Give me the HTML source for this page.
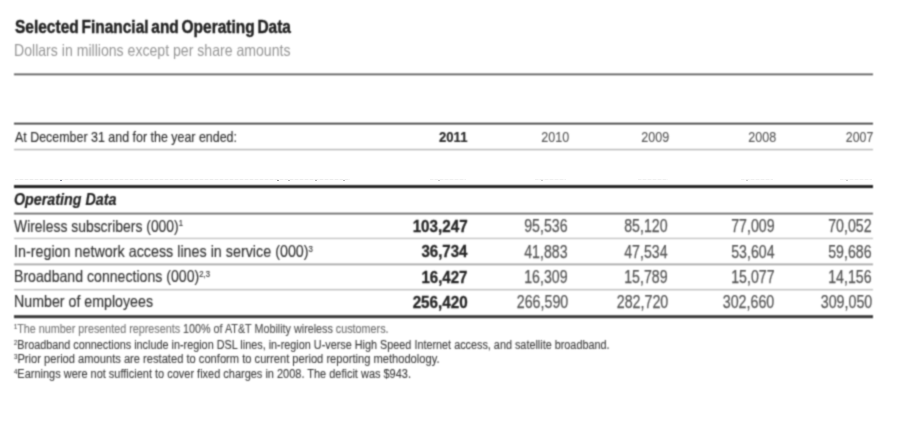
<!DOCTYPE html><html><head><meta charset="utf-8"><style>
html,body{margin:0;padding:0;background:#fff;}body{width:912px;height:442px;position:relative;overflow:hidden;font-family:"Liberation Sans",sans-serif;}
.t{position:absolute;white-space:nowrap;line-height:1;display:block;}
.l{position:absolute;}
sup{font-size:0.55em;vertical-align:0;position:relative;top:-0.6em;line-height:0;}
.w{position:absolute;left:0;top:0;width:912px;height:442px;}
#wt{filter:url(#kb);}
</style></head><body>
<svg width="0" height="0" style="position:absolute"><filter id="kb" x="0" y="0" width="100%" height="100%" color-interpolation-filters="sRGB"><feConvolveMatrix order="5" kernelMatrix="0.00009 0.00198 0.00548 0.00198 0.00009 0.00198 0.04220 0.11707 0.04220 0.00198 0.00548 0.11707 0.32480 0.11707 0.00548 0.00198 0.04220 0.11707 0.04220 0.00198 0.00009 0.00198 0.00548 0.00198 0.00009" divisor="1" edgeMode="none" preserveAlpha="false"/></filter></svg>
<div class="w" id="wl">
<div class="l" style="left:13px;top:71px;width:860.8px;height:6px;background:linear-gradient(to bottom,rgb(254,254,254) 0px 1px,rgb(236,236,236) 1px 2px,rgb(173,173,173) 2px 3px,rgb(140,140,140) 3px 4px,rgb(196,196,196) 4px 5px,rgb(246,246,246) 5px 6px);-webkit-mask-image:linear-gradient(90deg,transparent 0,#000 2px,#000 calc(100% - 2px),transparent 100%);"></div>
<div class="l" style="left:13px;top:121px;width:860.8px;height:6px;background:linear-gradient(to bottom,rgb(244,244,244) 0px 1px,rgb(182,182,182) 1px 2px,rgb(119,119,119) 2px 3px,rgb(160,160,160) 3px 4px,rgb(234,234,234) 4px 5px,rgb(254,254,254) 5px 6px);-webkit-mask-image:linear-gradient(90deg,transparent 0,#000 2px,#000 calc(100% - 2px),transparent 100%);"></div>
<div class="l" style="left:13px;top:147px;width:860.8px;height:5px;background:linear-gradient(to bottom,rgb(252,252,252) 0px 1px,rgb(233,233,233) 1px 2px,rgb(210,210,210) 2px 3px,rgb(228,228,228) 3px 4px,rgb(251,251,251) 4px 5px);-webkit-mask-image:linear-gradient(90deg,transparent 0,#000 2px,#000 calc(100% - 2px),transparent 100%);"></div>
<div class="l" style="left:13px;top:183px;width:860.8px;height:7px;background:linear-gradient(to bottom,rgb(251,251,251) 0px 1px,rgb(203,203,203) 1px 2px,rgb(94,94,94) 2px 3px,rgb(42,42,42) 3px 4px,rgb(83,83,83) 4px 5px,rgb(193,193,193) 5px 6px,rgb(249,249,249) 6px 7px);-webkit-mask-image:linear-gradient(90deg,transparent 0,#000 2px,#000 calc(100% - 2px),transparent 100%);"></div>
<div class="l" style="left:13px;top:211px;width:860.8px;height:6px;background:linear-gradient(to bottom,rgb(245,245,245) 0px 1px,rgb(197,197,197) 1px 2px,rgb(150,150,150) 2px 3px,rgb(184,184,184) 3px 4px,rgb(240,240,240) 4px 5px,rgb(254,254,254) 5px 6px);-webkit-mask-image:linear-gradient(90deg,transparent 0,#000 2px,#000 calc(100% - 2px),transparent 100%);"></div>
<div class="l" style="left:13px;top:236px;width:860.8px;height:5px;background:linear-gradient(to bottom,rgb(252,252,252) 0px 1px,rgb(233,233,233) 1px 2px,rgb(218,218,218) 2px 3px,rgb(237,237,237) 3px 4px,rgb(253,253,253) 4px 5px);-webkit-mask-image:linear-gradient(90deg,transparent 0,#000 2px,#000 calc(100% - 2px),transparent 100%);"></div>
<div class="l" style="left:13px;top:261px;width:860.8px;height:6px;background:linear-gradient(to bottom,rgb(254,254,254) 0px 1px,rgb(245,245,245) 1px 2px,rgb(211,211,211) 2px 3px,rgb(193,193,193) 3px 4px,rgb(222,222,222) 4px 5px,rgb(250,250,250) 5px 6px);-webkit-mask-image:linear-gradient(90deg,transparent 0,#000 2px,#000 calc(100% - 2px),transparent 100%);"></div>
<div class="l" style="left:13px;top:287px;width:860.8px;height:5px;background:linear-gradient(to bottom,rgb(253,253,253) 0px 1px,rgb(238,238,238) 1px 2px,rgb(214,214,214) 2px 3px,rgb(227,227,227) 3px 4px,rgb(250,250,250) 4px 5px);-webkit-mask-image:linear-gradient(90deg,transparent 0,#000 2px,#000 calc(100% - 2px),transparent 100%);"></div>
<div class="l" style="left:13px;top:313px;width:860.8px;height:7px;background:linear-gradient(to bottom,rgb(252,252,252) 0px 1px,rgb(217,217,217) 1px 2px,rgb(122,122,122) 2px 3px,rgb(68,68,68) 3px 4px,rgb(96,96,96) 4px 5px,rgb(190,190,190) 5px 6px,rgb(247,247,247) 6px 7px);-webkit-mask-image:linear-gradient(90deg,transparent 0,#000 2px,#000 calc(100% - 2px),transparent 100%);"></div>
<div class="l" style="left:15px;top:179px;width:335px;height:1px;background:#eee;background:repeating-linear-gradient(90deg,#ececec 0 3px,#f7f7f7 3px 5px);"></div>
<div class="l" style="left:430px;top:179.3px;width:36px;height:1px;background:#eee;background:repeating-linear-gradient(90deg,#f0f0f0 0 3px,#f8f8f8 3px 5px);"></div>
<div class="l" style="left:535px;top:179.3px;width:31px;height:1px;background:#eee;background:repeating-linear-gradient(90deg,#f0f0f0 0 3px,#f8f8f8 3px 5px);"></div>
<div class="l" style="left:638px;top:179.3px;width:30px;height:1px;background:#eee;background:repeating-linear-gradient(90deg,#f0f0f0 0 3px,#f8f8f8 3px 5px);"></div>
<div class="l" style="left:741px;top:179.3px;width:32px;height:1px;background:#eee;background:repeating-linear-gradient(90deg,#f0f0f0 0 3px,#f8f8f8 3px 5px);"></div>
<div class="l" style="left:840px;top:179.3px;width:32px;height:1px;background:#eee;background:repeating-linear-gradient(90deg,#f0f0f0 0 3px,#f8f8f8 3px 5px);"></div>
<div class="l" style="left:59.5px;top:179.8px;width:2px;height:1.5px;background:#8a8ea0;"></div>
<div class="l" style="left:276.5px;top:179.8px;width:2.5px;height:1.5px;background:#a0a0a0;"></div>
<div class="l" style="left:288px;top:180px;width:1.5px;height:1px;background:#bbb;"></div>
<div class="l" style="left:315px;top:180px;width:1.5px;height:1px;background:#bbb;"></div>
<div class="l" style="left:343px;top:180px;width:1.5px;height:1px;background:#bbb;"></div>
<div class="l" style="left:438px;top:180px;width:2px;height:1.2px;background:#ccc;"></div>
<div class="l" style="left:541px;top:180px;width:2px;height:1.2px;background:#d0d0d0;"></div>
<div class="l" style="left:746px;top:180px;width:2px;height:1.2px;background:#d0d0d0;"></div>
<div class="l" style="left:846px;top:180px;width:2px;height:1.2px;background:#d0d0d0;"></div>
</div><div class="w" id="wt">
<div class="t" id="e0" style="font-size:17.5px;top:19.40px;color:#1f1f1f;font-weight:700;word-spacing:-1.8px;-webkit-text-stroke:0.4px #1f1f1f;left:15px;transform-origin:0 0;transform:scale(0.8852,1.0000);">Selected Financial and Operating Data</div>
<div class="t" id="e1" style="font-size:16.5px;top:42.21px;color:#959595;left:14.4px;transform-origin:0 0;transform:scale(0.8541,1.0000);">Dollars in millions except per share amounts</div>
<div class="t" id="e2" style="font-size:14.5px;top:130.22px;color:#2e2e2e;-webkit-text-stroke:0.15px #2e2e2e;left:15px;transform-origin:0 0;transform:scale(0.8580,1.0000);">At December 31 and for the year ended:</div>
<div class="t" id="e3" style="font-size:14.5px;top:129.91px;color:#2a2a2a;font-weight:700;-webkit-text-stroke:0.2px #2a2a2a;right:444.5px;transform-origin:100% 0;transform:scale(0.9057,1.0000);">2011</div>
<div class="t" id="e4" style="font-size:14.5px;top:129.91px;color:#555;-webkit-text-stroke:0.1px #555;right:342.5px;transform-origin:100% 0;transform:scale(0.8678,1.0000);">2010</div>
<div class="t" id="e5" style="font-size:14.5px;top:129.91px;color:#555;-webkit-text-stroke:0.1px #555;right:242.5px;transform-origin:100% 0;transform:scale(0.8678,1.0000);">2009</div>
<div class="t" id="e6" style="font-size:14.5px;top:129.91px;color:#555;-webkit-text-stroke:0.1px #555;right:136px;transform-origin:100% 0;transform:scale(0.8678,1.0000);">2008</div>
<div class="t" id="e7" style="font-size:14.5px;top:129.91px;color:#555;-webkit-text-stroke:0.1px #555;right:39px;transform-origin:100% 0;transform:scale(0.8523,1.0000);">2007</div>
<div class="t" id="e8" style="font-size:16px;top:192.30px;color:#222;font-weight:700;font-style:italic;-webkit-text-stroke:0.2px #222;left:13.8px;transform-origin:0 0;transform:scale(0.8937,1.0000);">Operating Data</div>
<div class="t" id="e9" style="font-size:16.5px;top:217.60px;color:#333;-webkit-text-stroke:0.15px #333;left:14px;transform-origin:0 0;transform:scale(0.8435,1.0000);">Wireless subscribers (000)<sup>1</sup></div>
<div class="t" id="e10" style="font-size:16.5px;top:243.01px;color:#333;-webkit-text-stroke:0.15px #333;left:14px;transform-origin:0 0;transform:scale(0.8682,1.0000);">In-region network access lines in service (000)<sup>3</sup></div>
<div class="t" id="e11" style="font-size:16.5px;top:268.30px;color:#333;-webkit-text-stroke:0.15px #333;left:14px;transform-origin:0 0;transform:scale(0.8555,1.0000);">Broadband connections (000)<sup>2,3</sup></div>
<div class="t" id="e12" style="font-size:16.5px;top:293.30px;color:#333;-webkit-text-stroke:0.15px #333;left:14px;transform-origin:0 0;transform:scale(0.8611,1.0000);">Number of employees</div>
<div class="t" id="e13" style="font-size:16.5px;top:217.91px;color:#252525;font-weight:700;-webkit-text-stroke:0.3px #252525;right:444.8px;transform-origin:100% 0;transform:scale(0.9219,1.0000);">103,247</div>
<div class="t" id="e14" style="font-size:17.5px;top:218.12px;color:#555;-webkit-text-stroke:0.25px #555;right:344px;transform-origin:100% 0;transform:scale(0.8089,1.0000);">95,536</div>
<div class="t" id="e15" style="font-size:17.5px;top:218.12px;color:#555;-webkit-text-stroke:0.25px #555;right:244px;transform-origin:100% 0;transform:scale(0.8089,1.0000);">85,120</div>
<div class="t" id="e16" style="font-size:17.5px;top:218.12px;color:#555;-webkit-text-stroke:0.25px #555;right:137.8px;transform-origin:100% 0;transform:scale(0.8089,1.0000);">77,009</div>
<div class="t" id="e17" style="font-size:17.5px;top:218.12px;color:#555;-webkit-text-stroke:0.25px #555;right:40px;transform-origin:100% 0;transform:scale(0.8089,1.0000);">70,052</div>
<div class="t" id="e18" style="font-size:16.5px;top:243.30px;color:#252525;font-weight:700;-webkit-text-stroke:0.3px #252525;right:444.8px;transform-origin:100% 0;transform:scale(0.9115,1.0000);">36,734</div>
<div class="t" id="e19" style="font-size:17.5px;top:243.51px;color:#555;-webkit-text-stroke:0.25px #555;right:344px;transform-origin:100% 0;transform:scale(0.8089,1.0000);">41,883</div>
<div class="t" id="e20" style="font-size:17.5px;top:243.51px;color:#555;-webkit-text-stroke:0.25px #555;right:244px;transform-origin:100% 0;transform:scale(0.8089,1.0000);">47,534</div>
<div class="t" id="e21" style="font-size:17.5px;top:243.51px;color:#555;-webkit-text-stroke:0.25px #555;right:137.8px;transform-origin:100% 0;transform:scale(0.8089,1.0000);">53,604</div>
<div class="t" id="e22" style="font-size:17.5px;top:243.51px;color:#555;-webkit-text-stroke:0.25px #555;right:40px;transform-origin:100% 0;transform:scale(0.8089,1.0000);">59,686</div>
<div class="t" id="e23" style="font-size:16.5px;top:268.60px;color:#252525;font-weight:700;-webkit-text-stroke:0.3px #252525;right:444.8px;transform-origin:100% 0;transform:scale(0.9115,1.0000);">16,427</div>
<div class="t" id="e24" style="font-size:17.5px;top:268.81px;color:#555;-webkit-text-stroke:0.25px #555;right:344px;transform-origin:100% 0;transform:scale(0.8089,1.0000);">16,309</div>
<div class="t" id="e25" style="font-size:17.5px;top:268.81px;color:#555;-webkit-text-stroke:0.25px #555;right:244px;transform-origin:100% 0;transform:scale(0.8089,1.0000);">15,789</div>
<div class="t" id="e26" style="font-size:17.5px;top:268.81px;color:#555;-webkit-text-stroke:0.25px #555;right:137.8px;transform-origin:100% 0;transform:scale(0.8089,1.0000);">15,077</div>
<div class="t" id="e27" style="font-size:17.5px;top:268.81px;color:#555;-webkit-text-stroke:0.25px #555;right:40px;transform-origin:100% 0;transform:scale(0.8089,1.0000);">14,156</div>
<div class="t" id="e28" style="font-size:16.5px;top:293.60px;color:#252525;font-weight:700;-webkit-text-stroke:0.3px #252525;right:444.8px;transform-origin:100% 0;transform:scale(0.9219,1.0000);">256,420</div>
<div class="t" id="e29" style="font-size:17.5px;top:293.81px;color:#555;-webkit-text-stroke:0.25px #555;right:344px;transform-origin:100% 0;transform:scale(0.8140,1.0000);">266,590</div>
<div class="t" id="e30" style="font-size:17.5px;top:293.81px;color:#555;-webkit-text-stroke:0.25px #555;right:244px;transform-origin:100% 0;transform:scale(0.8140,1.0000);">282,720</div>
<div class="t" id="e31" style="font-size:17.5px;top:293.81px;color:#555;-webkit-text-stroke:0.25px #555;right:137.8px;transform-origin:100% 0;transform:scale(0.8140,1.0000);">302,660</div>
<div class="t" id="e32" style="font-size:17.5px;top:293.81px;color:#555;-webkit-text-stroke:0.25px #555;right:40px;transform-origin:100% 0;transform:scale(0.8140,1.0000);">309,050</div>
<div class="t" id="e33" style="font-size:12.5px;top:323.30px;color:#4a4a4a;-webkit-text-stroke:0.1px #4a4a4a;left:14px;transform-origin:0 0;transform:scale(0.8613,1.0000);"><sup>1</sup><span style="color:#7a7a7a">The number presented represents </span>100% of AT&amp;T Mobility wireless <span style="color:#707070">customers.</span></div>
<div class="t" id="e34" style="font-size:12.5px;top:338.71px;color:#383838;-webkit-text-stroke:0.1px #383838;left:14px;transform-origin:0 0;transform:scale(0.8667,1.0000);"><sup>2</sup>Broadband connections include in-region DSL lines, in-region U-verse High Speed Internet access, and satellite broadband.</div>
<div class="t" id="e35" style="font-size:12.5px;top:353.30px;color:#383838;-webkit-text-stroke:0.1px #383838;left:14px;transform-origin:0 0;transform:scale(0.8912,1.0000);"><sup>3</sup>Prior period amounts are restated to conform to current period reporting methodology.</div>
<div class="t" id="e36" style="font-size:12.5px;top:368.40px;color:#383838;-webkit-text-stroke:0.1px #383838;left:14px;transform-origin:0 0;transform:scale(0.8778,1.0000);"><sup>4</sup>Earnings were not sufficient to cover fixed charges in 2008. The deficit was $943.</div>
</div></body></html>
